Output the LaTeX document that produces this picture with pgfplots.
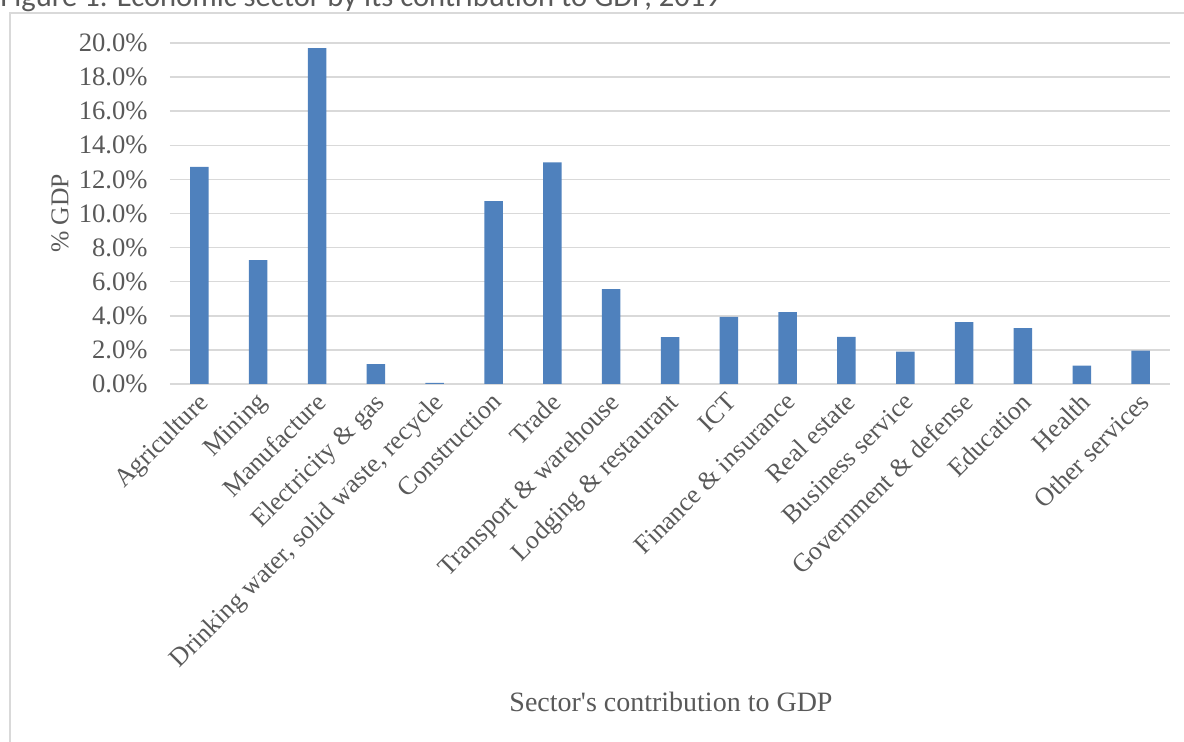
\documentclass[border=0pt]{standalone}
\usepackage{fontspec}
\setmainfont{Liberation Serif}
\newfontfamily\titlefont{Carlito}
\usepackage{pgfplots}
\pgfplotsset{compat=1.18}
\definecolor{txt}{HTML}{595959}
\definecolor{gridc}{HTML}{D9D9D9}
\definecolor{barc}{HTML}{4F81BD}
\begin{document}
\begin{tikzpicture}
\path[use as bounding box] (-85pt,-179pt) rectangle (507pt,192pt);
\draw[gridc, line width=1pt, overlay] (-80pt,-180pt) -- (-80pt,185.65pt) -- (508pt,185.65pt);
\node[overlay, anchor=base west, inner sep=0pt, text=txt, font=\titlefont\fontsize{15.3}{18}\selectfont] at (-85pt,188.6pt) {Figure 1. Economic sector by its contribution to GDP, 2019};
\begin{axis}[
  at={(0pt,0pt)}, anchor=south west,
  scale only axis, width=500pt, height=170.5pt,
  xmin=-0.5, xmax=16.5, ymin=0, ymax=20,
  axis line style={draw=none},
  ymajorgrids, major grid style={gridc, line width=0.75pt},
  major tick length=0pt, tick style={draw=none},
  ybar, bar width=9.25pt,
  ytick={0,2,...,20},
  yticklabels={0.0\%,2.0\%,4.0\%,6.0\%,8.0\%,10.0\%,12.0\%,14.0\%,16.0\%,18.0\%,20.0\%},
  yticklabel style={anchor=east, inner sep=0pt, xshift=-11pt, font=\fontsize{13.3}{15}\selectfont, text=txt},
  xtick={0,...,16},
  xticklabels={Agriculture, Mining, Manufacture, Electricity \& gas, {Drinking water, solid waste, recycle}, Construction, Trade, Transport \& warehouse, Lodging \& restaurant, ICT, Finance \& insurance, Real estate, Business service, Government \& defense, Education, Health, Other services},
  xticklabel style={rotate=45, anchor=north east, inner sep=0pt, xshift=-2pt, font=\fontsize{13}{15}\selectfont, text=txt},
  xticklabel shift=2pt,
  ylabel={\% GDP},
  xlabel={Sector\textquotesingle s contribution to GDP},
  every axis y label/.style={at={(axis description cs:-0.11,0.5)}, rotate=90, anchor=center, font=\fontsize{12.8}{15}\selectfont, text=txt},
  every axis x label/.style={at={(axis description cs:0.501,-0.961)}, anchor=base, font=\fontsize{14}{16}\selectfont, text=txt},
]
\addplot[fill=barc, draw=none] coordinates {
(0,12.73) (1,7.26) (2,19.70) (3,1.16) (4,0.06) (5,10.73) (6,13.00) (7,5.57) (8,2.75)
(9,3.93) (10,4.21) (11,2.76) (12,1.90) (13,3.63) (14,3.27) (15,1.08) (16,1.96)};
\end{axis}
\end{tikzpicture}
\end{document}
